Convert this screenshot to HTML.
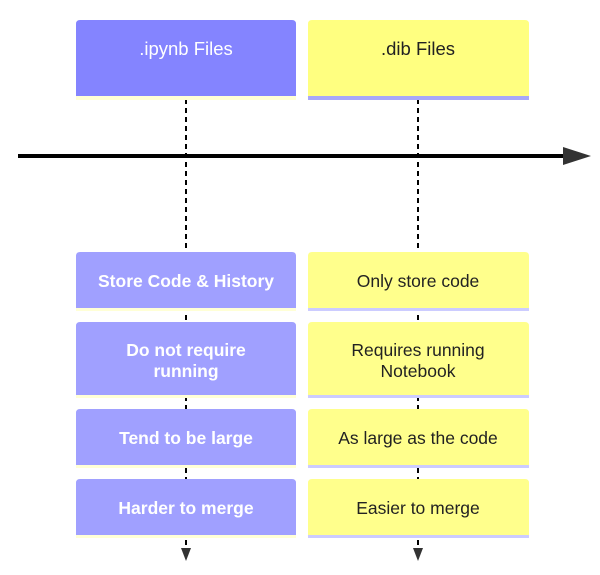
<!DOCTYPE html>
<html><head><meta charset="utf-8"><style>
html,body{margin:0;padding:0;background:#fff;}
svg{display:block;}
text{font-family:"Liberation Sans",sans-serif;font-size:17.5px;text-anchor:middle;}
.l{fill:#fff;font-weight:bold;}
.r{fill:#222;}
.h{font-size:18.5px;}
</style></head><body>
<svg width="600" height="575" viewBox="0 0 600 575" xmlns="http://www.w3.org/2000/svg">
<line x1="186" y1="99" x2="186" y2="550" stroke="#000" stroke-width="2" stroke-dasharray="5,4"/>
<line x1="418" y1="99" x2="418" y2="550" stroke="#000" stroke-width="2" stroke-dasharray="5,4"/>
<path d="M181,548 L191,548 L186,561z" fill="#333"/>
<path d="M413,548 L423,548 L418,561z" fill="#333"/>
<line x1="18" y1="156" x2="566" y2="156" stroke="#000" stroke-width="4"/>
<path d="M563,147 L591,156 L563,165z" fill="#333"/>
<rect x="76" y="96" width="220" height="4" fill="#ffffd6"/>
<path d="M76,96 V24 Q76,20 80,20 H292 Q296,20 296,24 V96z" fill="#8484ff"/>
<text class="h" x="186" y="55" fill="#fff">.ipynb Files</text>
<rect x="308" y="96" width="221" height="4" fill="#a8a8f8"/>
<path d="M308,96 V24 Q308,20 312,20 H525 Q529,20 529,24 V96z" fill="#ffff80"/>
<text class="r h" x="418" y="55">.dib Files</text>
<g fill="#ffffd6">
<rect x="76" y="307" width="220" height="4"/><rect x="76" y="394" width="220" height="4"/>
<rect x="76" y="464" width="220" height="4"/><rect x="76" y="534" width="220" height="4"/>
</g>
<g fill="#a0a0ff">
<path d="M76,308 V256 Q76,252 80,252 H292 Q296,252 296,256 V308z"/>
<path d="M76,395 V326 Q76,322 80,322 H292 Q296,322 296,326 V395z"/>
<path d="M76,465 V413 Q76,409 80,409 H292 Q296,409 296,413 V465z"/>
<path d="M76,535 V483 Q76,479 80,479 H292 Q296,479 296,483 V535z"/>
</g>
<text class="l" x="186" y="287">Store Code &amp; History</text>
<text class="l" x="186" y="356">Do not require</text>
<text class="l" x="186" y="377">running</text>
<text class="l" x="186" y="444">Tend to be large</text>
<text class="l" x="186" y="514">Harder to merge</text>
<g fill="#ccccff">
<rect x="308" y="307" width="221" height="4"/><rect x="308" y="394" width="221" height="4"/>
<rect x="308" y="464" width="221" height="4"/><rect x="308" y="534" width="221" height="4"/>
</g>
<g fill="#ffff8c">
<path d="M308,308 V256 Q308,252 312,252 H525 Q529,252 529,256 V308z"/>
<path d="M308,395 V326 Q308,322 312,322 H525 Q529,322 529,326 V395z"/>
<path d="M308,465 V413 Q308,409 312,409 H525 Q529,409 529,413 V465z"/>
<path d="M308,535 V483 Q308,479 312,479 H525 Q529,479 529,483 V535z"/>
</g>
<text class="r" x="418" y="287">Only store code</text>
<text class="r" x="418" y="356">Requires running</text>
<text class="r" x="418" y="377">Notebook</text>
<text class="r" x="418" y="444">As large as the code</text>
<text class="r" x="418" y="514">Easier to merge</text>
</svg>
</body></html>
